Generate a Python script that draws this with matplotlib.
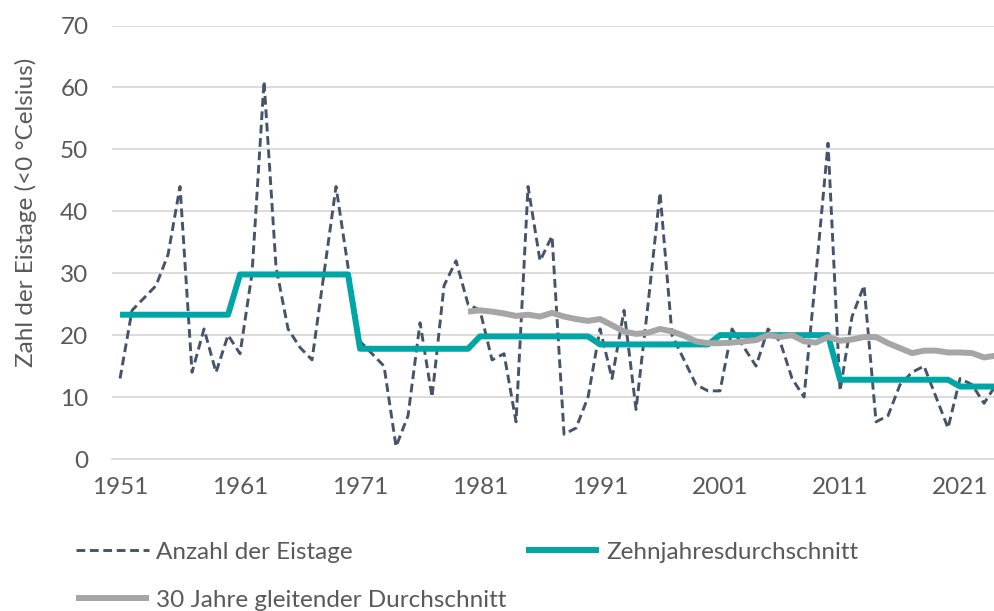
import matplotlib
matplotlib.use("Agg")
from matplotlib import pyplot as plt

years = list(range(1951, 2025))

eistage = [13, 24, 26, 28, 33, 44, 14, 21, 14, 20,
           17, 30, 61, 31, 21, 18, 16, 30, 44, 31,
           19, 17, 15, 2, 7, 22, 10, 28, 32, 25,
           24, 16, 17, 6, 44, 32, 36, 4, 5, 10,
           21, 13, 24, 8, 25, 43, 20, 16, 12, 11,
           11, 21, 18, 15, 21, 19, 13, 10, 30, 51,
           11, 23, 28, 6, 7, 12, 14, 15, 10, 5,
           13, 12, 9, 12]

decade_mean = [23.3] * 10 + [29.8] * 10 + [17.8] * 10 + [19.8] * 10 + \
              [18.5] * 10 + [20.0] * 10 + [12.8] * 10 + [11.7] * 4

gleitend_years = list(range(1980, 2025))
gleitend = [23.8, 24.0, 23.8, 23.5, 23.1, 23.3, 23.0, 23.6, 23.0, 22.6,
            22.3, 22.6, 21.6, 20.6, 20.2, 20.4, 21.0, 20.6, 19.9, 19.0,
            18.7, 18.7, 18.8, 19.0, 19.2, 20.0, 19.7, 20.0, 19.0, 18.8,
            19.7, 19.1, 19.3, 19.7, 19.7, 18.7, 17.9, 17.1, 17.5, 17.5,
            17.2, 17.2, 17.1, 16.4, 16.7]

tick_years = [1951, 1961, 1971, 1981, 1991, 2001, 2011, 2021]

plt.rcParams["font.family"] = ["Lato", "DejaVu Sans"]
txt_color = "#595959"

fig = plt.figure(figsize=(9.94, 6.11), dpi=100)
ax = fig.add_axes([112 / 994, 1 - 459 / 611, (1003 - 112) / 994, (459 - 25.5) / 611])

l1, = ax.plot(years, eistage, color="#44546A", lw=2.1, dashes=(3, 1.6),
              label="Anzahl der Eistage")
l2, = ax.plot(years, decade_mean, color="#00A6A6", lw=4.3,
              solid_capstyle="butt", label="Zehnjahresdurchschnitt")
l3, = ax.plot(gleitend_years, gleitend, color="#A6A6A6", lw=4.3,
              solid_capstyle="butt", label="30 Jahre gleitender Durchschnitt")

ax.set_xlim(1950.33, 2024.58)
ax.set_ylim(0, 70)
ax.set_yticks(range(0, 71, 10))
ax.set_xticks(tick_years)
ax.grid(axis="y", color="#D9D9D9", lw=1.3)
ax.set_axisbelow(True)
for s in ["top", "right", "left"]:
    ax.spines[s].set_visible(False)
ax.spines["bottom"].set_color("#D9D9D9")
ax.spines["bottom"].set_linewidth(1.3)
ax.tick_params(axis="both", length=0, labelsize=17.5, colors=txt_color)
ax.tick_params(axis="y", pad=17)
ax.tick_params(axis="x", pad=13)

fig.text(26 / 994, 1 - 212 / 611, "Zahl der Eistage (<0 °Celsius)",
         rotation=90, ha="center", va="center", fontsize=17.5, color=txt_color)

# column-major order: first column holds l1 and l3, second holds l2
leg = fig.legend(handles=[l1, l3, l2], ncol=2, loc="upper left",
                 bbox_to_anchor=(66 / 994, 1 - 532 / 611), frameon=False,
                 fontsize=17.5, handlelength=3.0, handletextpad=0.3,
                 columnspacing=0.8, labelspacing=1.12, borderaxespad=0)
for t in leg.get_texts():
    t.set_color(txt_color)

fig.savefig("out.png", dpi=100)
